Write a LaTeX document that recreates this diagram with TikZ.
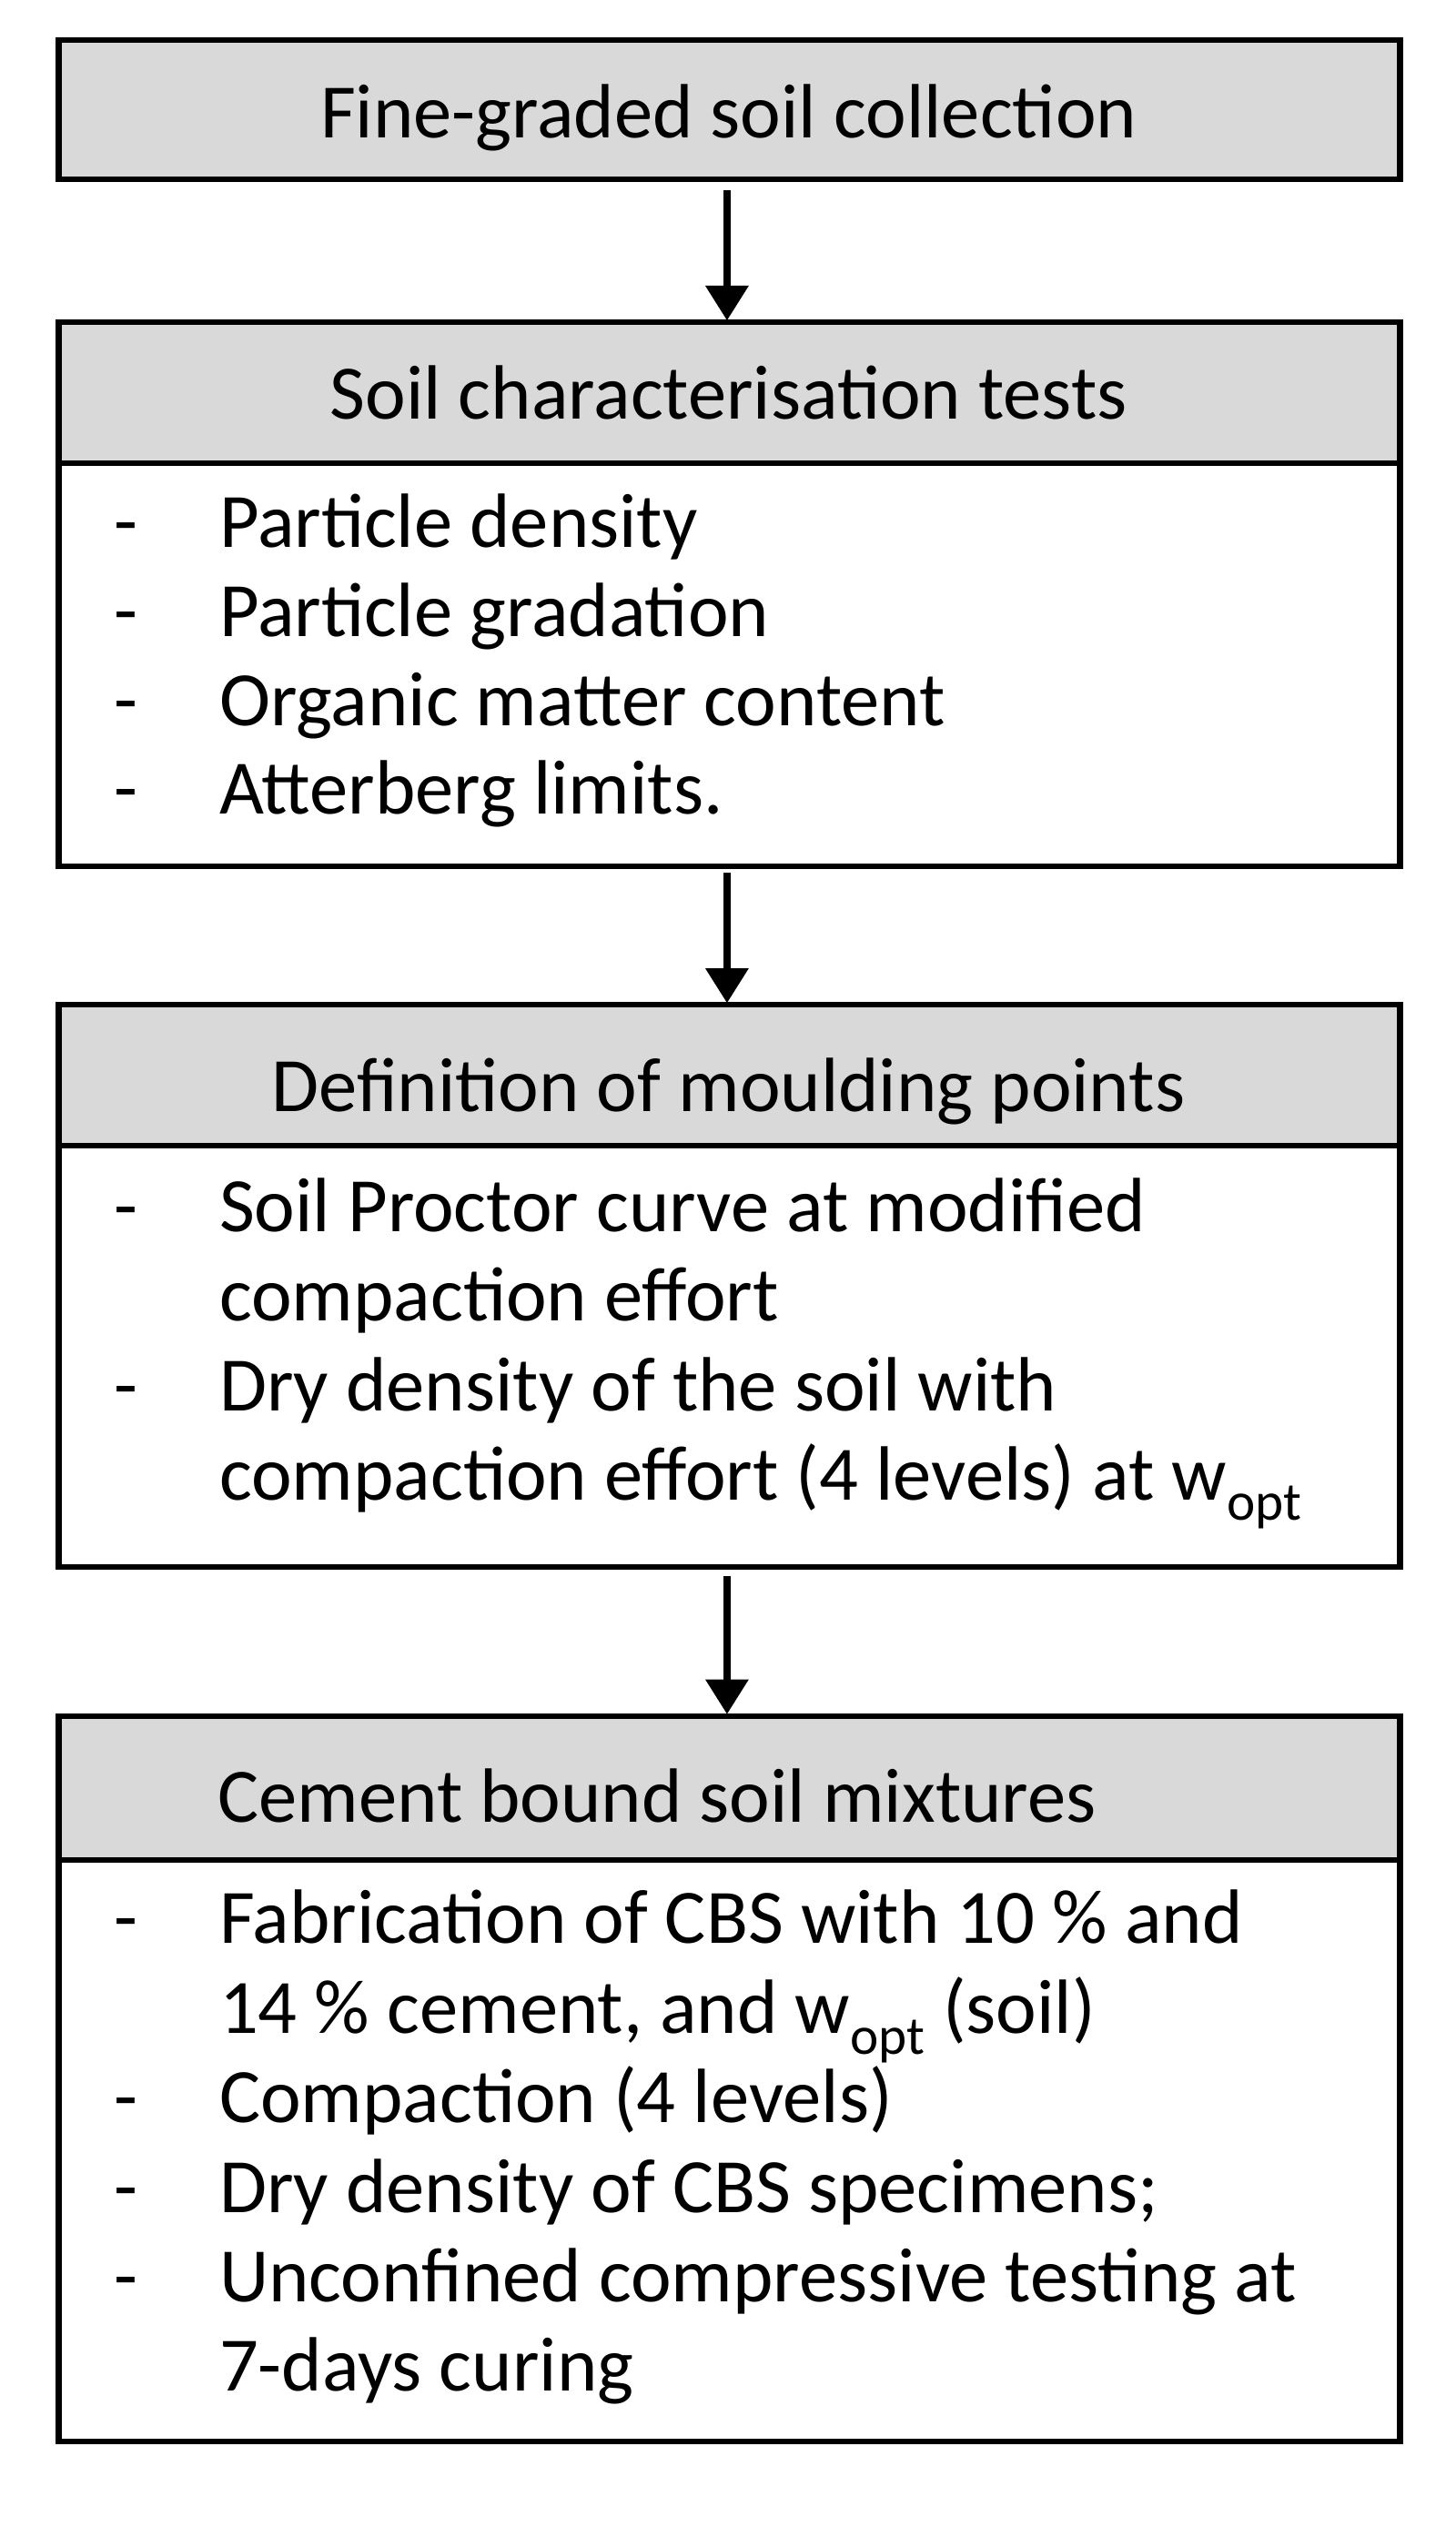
\documentclass[tikz,border=0pt]{standalone}
\usepackage{fontspec}
\setmainfont{Carlito}
\usetikzlibrary{arrows.meta}
\begin{document}
\begin{tikzpicture}[x=1pt,y=-1pt,
 box/.style={draw=black,line width=3.5pt},
 hdr/.style={box,fill=gray!30},
 t/.style={font=\fontsize{48.5}{56}\selectfont,inner sep=0pt},
 l/.style={t,anchor=base west},
 arr/.style={line width=5pt,-{Triangle[length=22pt,width=26pt]}}]
\useasboundingbox (0,0) rectangle (917,1592);
\draw[hdr] (37,25) rectangle (882,113);
\node[t,anchor=base] (h1) at (459,87) {Fine-graded soil collection};
\draw[hdr] (37,203) rectangle (882,292);
\draw[box] (37,292) rectangle (882,546);
\node[t,anchor=base] (h2) at (459,264) {Soil characterisation tests};
\draw[hdr] (37,633) rectangle (882,722);
\draw[box] (37,722) rectangle (882,987);
\node[t,anchor=base] (h3) at (459,700) {Definition of moulding points};
\draw[hdr] (37,1081) rectangle (882,1172);
\draw[box] (37,1172) rectangle (882,1538);
\node[t,anchor=base] (h4) at (414,1148) {Cement bound soil mixtures};
\coordinate (a1) at (458,120); \coordinate (b1) at (458,202);
\coordinate (a2) at (458,550); \coordinate (b2) at (458,632);
\coordinate (a3) at (458,993); \coordinate (b3) at (458,1080);
\draw[arr] (a1)--(b1); \draw[arr] (a2)--(b2); \draw[arr] (a3)--(b3);
\foreach \y/\s [count=\i] in {345/Particle density,401/Particle gradation,457/Organic matter content,513/Atterberg limits.}{
 \node[l] (d2\i) at (72,\y) {-};
 \node[l] (l2\i) at (138,\y) {\s};}
\node[l] (d31) at (72,776) {-};
\node[l] (l31) at (138,776) {Soil Proctor curve at modified};
\node[l] (l32) at (138,832) {compaction effort};
\node[l] (d33) at (72,889) {-};
\node[l] (l33) at (138,889) {Dry density of the soil with};
\node[l] (l34) at (138,945) {compaction effort (4 levels) at w\textsubscript{opt}};
\node[l] (d41) at (72,1224) {-};
\node[l] (l41) at (138,1224) {Fabrication of CBS with 10 \% and};
\node[l] (l42) at (138,1281) {14 \% cement, and w\textsubscript{opt} (soil)};
\node[l] (d43) at (72,1337) {-};
\node[l] (l43) at (138,1337) {Compaction (4 levels)};
\node[l] (d44) at (72,1394) {-};
\node[l] (l44) at (138,1394) {Dry density of CBS specimens;};
\node[l] (d45) at (72,1450) {-};
\node[l] (l45) at (138,1450) {Unconfined compressive testing at};
\node[l] (l46) at (138,1506) {7-days curing};
\end{tikzpicture}
\end{document}
